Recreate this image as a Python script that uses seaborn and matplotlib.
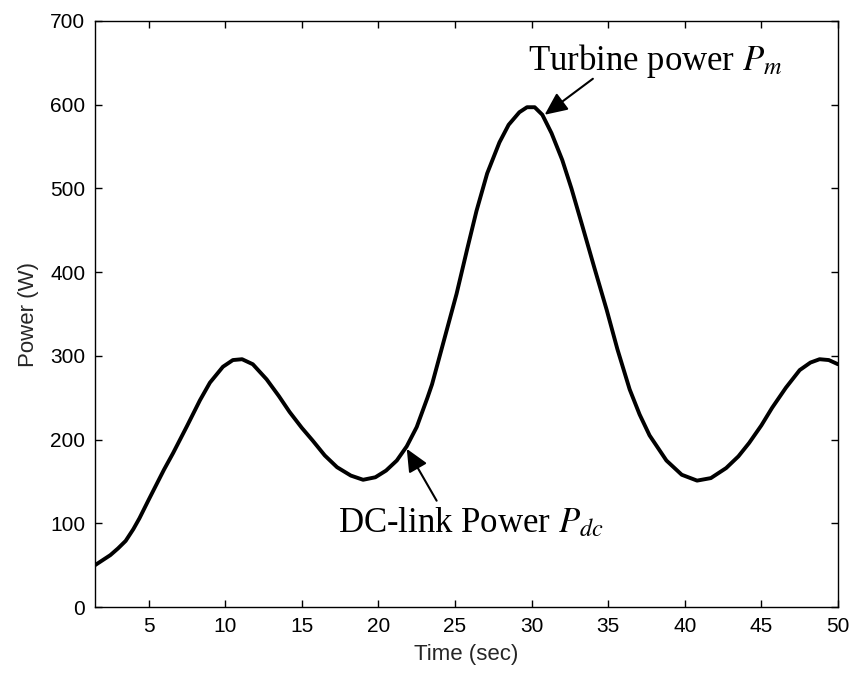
import matplotlib
matplotlib.use("Agg")
import matplotlib.pyplot as plt
import seaborn as sns
import pandas as pd

# Data
time_sec = [1.5, 2.0, 2.5, 3.0, 3.5, 4.0, 4.4, 5.0, 5.5, 6.0, 6.6, 7.5, 8.35, 9.0,
            9.85, 10.5, 11.1, 11.8, 12.7, 13.5, 14.2, 15.0, 15.7, 16.5, 17.3, 18.2,
            19.0, 19.8, 20.5, 21.2, 21.85, 22.5, 23.2, 23.5, 24.3, 25.1, 25.8, 26.4,
            27.1, 27.9, 28.5, 29.2, 29.7, 30.2, 30.7, 31.3, 32.0, 32.6, 33.3, 34.1,
            34.9, 35.6, 36.4, 37.05, 37.7, 38.8, 39.8, 40.8, 41.7, 42.7, 43.5, 44.2,
            45.0, 45.7, 46.6, 47.5, 48.2, 48.8, 49.4, 50.0]
power_w = [50, 56, 62, 70, 79, 93, 106, 128, 146, 164, 184, 216, 247, 268,
           287, 295, 296, 290, 272, 252, 233, 214, 199, 181, 167, 157,
           152, 155, 163, 175, 192, 215, 250, 266, 320, 374, 428, 473,
           518, 555, 576, 591, 597, 597, 588, 566, 534, 500, 456, 405,
           355, 308, 260, 230, 205, 175, 158, 151, 154, 166, 180, 196,
           217, 238, 262, 283, 292, 296, 295, 290]

x_ticks = [5, 10, 15, 20, 25, 30, 35, 40, 45, 50]
y_ticks = [0, 100, 200, 300, 400, 500, 600, 700]
x_label = "Time (sec)"
y_label = "Power (W)"
turbine_text = r"Turbine power $P_m$"
dclink_text = r"DC-link Power $P_{dc}$"

sns.set_theme(style="ticks")
plt.rcParams["font.family"] = ["Liberation Sans", "DejaVu Sans"]
plt.rcParams["mathtext.fontset"] = "stix"

df = pd.DataFrame({"t": time_sec, "p": power_w})

fig = plt.figure(figsize=(8.53, 6.75), dpi=100)
ax = fig.add_axes([0.1114, 0.1007, 0.8710, 0.8682])
sns.lineplot(data=df, x="t", y="p", ax=ax, color="black", linewidth=2.8,
             solid_joinstyle="round", solid_capstyle="round")

ax.set_xlim(1.5, 50)
ax.set_ylim(0, 700)
ax.set_xticks(x_ticks)
ax.set_yticks(y_ticks)
ax.set_xlabel(x_label, fontsize=16, labelpad=6)
ax.set_ylabel(y_label, fontsize=16, labelpad=8)
ax.tick_params(direction="in", length=5, width=1, top=True, right=True,
               labelsize=15, pad=7, colors="black")
for s in ax.spines.values():
    s.set_visible(True)
    s.set_linewidth(1.0)
    s.set_color("black")

arrow_style = dict(arrowstyle="-|>,head_length=0.55,head_width=0.25",
                   color="black", lw=1.5, shrinkA=0, shrinkB=0,
                   mutation_scale=25)

ax.text(29.75, 642, turbine_text, fontsize=25, family="Liberation Serif",
        color="black", va="baseline", ha="left")
ax.annotate("", xy=(30.85, 588), xytext=(34.0, 631), arrowprops=arrow_style)

ax.text(17.35, 89, dclink_text, fontsize=25, family="Liberation Serif",
        color="black", va="baseline", ha="left")
ax.annotate("", xy=(21.85, 189), xytext=(23.8, 127), arrowprops=arrow_style)

fig.savefig("out.png", dpi=100)
